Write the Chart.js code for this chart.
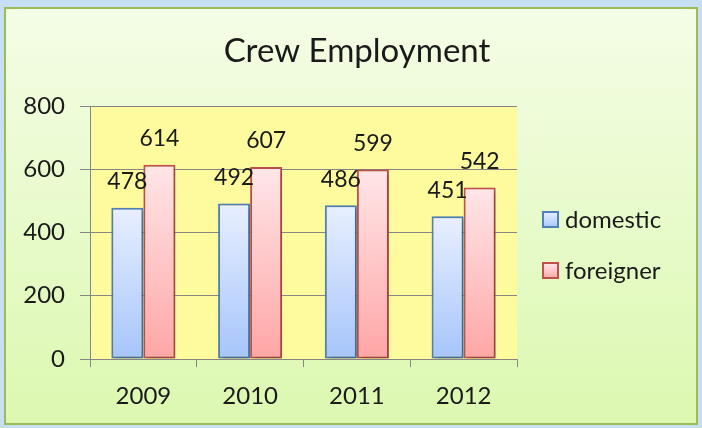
<!DOCTYPE html>
<html>
<head>
<meta charset="utf-8">
<script src="https://cdn.jsdelivr.net/npm/chart.js@4.4.1/dist/chart.umd.min.js"></script>
<style>
  html, body { margin: 0; padding: 0; background: #c6dff3; }
  #wrap { width: 702px; height: 428px; position: relative; }
</style>
</head>
<body>
<div id="wrap"><canvas id="c" width="702" height="428"></canvas></div>
<script>
const years = ['2009', '2010', '2011', '2012'];
const domestic = [478, 492, 486, 451];
const foreigner = [614, 607, 599, 542];
const yTicks = [0, 200, 400, 600, 800];
const chartTitle = 'Crew Employment';

const FONT = 'Lato, "Open Sans", sans-serif';
const TEXT = '#1a1a1a';

const palette = {
  domestic: { top: '#e8efff', bottom: '#a6c5fa', border: '#4f81bd' },
  foreigner: { top: '#ffe6e8', bottom: '#ffa6a6', border: '#c0504d' }
};

function barGradient(ctx, pal) {
  const chart = ctx.chart;
  if (!chart.chartArea || ctx.type !== 'data') return pal.bottom;
  const ys = chart.scales.y;
  const top = ys.getPixelForValue(ctx.parsed.y);
  const bottom = ys.getPixelForValue(0);
  const g = chart.ctx.createLinearGradient(0, top, 0, bottom);
  g.addColorStop(0, pal.top);
  g.addColorStop(1, pal.bottom);
  return g;
}

// Page frame, panel gradient, title and the yellow plot area
const backdrop = {
  id: 'backdrop',
  beforeDraw(chart) {
    const { ctx, chartArea: a } = chart;
    ctx.save();
    ctx.fillStyle = '#c6dff3';
    ctx.fillRect(0, 0, chart.width, chart.height);
    const g = ctx.createLinearGradient(0, 8, 0, 424);
    g.addColorStop(0, '#f4fde6');
    g.addColorStop(1, '#dcf8b0');
    ctx.fillStyle = g;
    ctx.fillRect(5, 8, 692, 416);
    ctx.strokeStyle = '#9bbb59';
    ctx.lineWidth = 2;
    ctx.strokeRect(5, 8, 692, 416);
    ctx.fillStyle = '#fefb9e';
    ctx.fillRect(a.left, a.top, a.right - a.left, a.bottom - a.top);
    ctx.font = '33px ' + FONT;
    ctx.fillStyle = TEXT;
    ctx.textAlign = 'center';
    ctx.textBaseline = 'alphabetic';
    ctx.fillText(chartTitle, 357, 62);
    ctx.restore();
  }
};

// Soft drop shadow under the bars
const barShadow = {
  id: 'barShadow',
  beforeDatasetsDraw(chart) {
    const ctx = chart.ctx;
    ctx.save();
    ctx.shadowColor = 'rgba(0,0,0,0.28)';
    ctx.shadowBlur = 5;
    ctx.shadowOffsetX = 2;
    ctx.shadowOffsetY = 2;
  },
  afterDatasetsDraw(chart) {
    chart.ctx.restore();
  }
};

// Value labels above each bar
const valueLabels = {
  id: 'valueLabels',
  afterDatasetsDraw(chart) {
    const ctx = chart.ctx;
    ctx.save();
    ctx.font = '23px ' + FONT;
    ctx.fillStyle = TEXT;
    ctx.textAlign = 'center';
    ctx.textBaseline = 'middle';
    chart.data.datasets.forEach((ds, i) => {
      chart.getDatasetMeta(i).data.forEach((bar, j) => {
        ctx.fillText(String(ds.data[j]), bar.x, bar.y - 26);
      });
    });
    ctx.restore();
  }
};

// Legend at the right of the plot
const sideLegend = {
  id: 'sideLegend',
  afterDraw(chart) {
    const ctx = chart.ctx;
    const pals = [palette.domestic, palette.foreigner];
    const rows = [220, 271];
    ctx.save();
    ctx.font = '24px ' + FONT;
    ctx.textBaseline = 'middle';
    chart.data.datasets.forEach((ds, i) => {
      const cy = rows[i];
      const pal = pals[i];
      const g = ctx.createLinearGradient(0, cy - 8, 0, cy + 8);
      g.addColorStop(0, pal.top);
      g.addColorStop(1, pal.bottom);
      ctx.fillStyle = g;
      ctx.fillRect(543, cy - 8, 15, 15);
      ctx.strokeStyle = pal.border;
      ctx.lineWidth = 2;
      ctx.strokeRect(543, cy - 8, 15, 15);
      ctx.fillStyle = TEXT;
      ctx.fillText(ds.label, 565, cy);
    });
    ctx.restore();
  }
};

new Chart(document.getElementById('c'), {
  type: 'bar',
  data: {
    labels: years,
    datasets: [
      {
        label: 'domestic',
        data: domestic,
        backgroundColor: (c) => barGradient(c, palette.domestic),
        borderColor: palette.domestic.border,
        borderWidth: 2,
        borderSkipped: false
      },
      {
        label: 'foreigner',
        data: foreigner,
        backgroundColor: (c) => barGradient(c, palette.foreigner),
        borderColor: palette.foreigner.border,
        borderWidth: 2,
        borderSkipped: false
      }
    ]
  },
  options: {
    responsive: false,
    animation: false,
    devicePixelRatio: 1,
    layout: { padding: { left: 0, right: 185, top: 106, bottom: 0 } },
    datasets: { bar: { categoryPercentage: 0.6, barPercentage: 1.0 } },
    plugins: {
      legend: { display: false },
      tooltip: { enabled: false },
      title: { display: false }
    },
    scales: {
      x: {
        offset: true,
        grid: { display: true, drawOnChartArea: false, drawTicks: true, tickLength: 8, color: '#868686', offset: true },
        border: { display: true, color: '#868686', width: 1 },
        ticks: { color: TEXT, font: { family: FONT, size: 24 }, padding: 15 },
        afterFit(s) { s.height = 69; }
      },
      y: {
        min: 0,
        max: 800,
        afterBuildTicks(s) { s.ticks = yTicks.map(v => ({ value: v })); },
        grid: { color: '#868686', drawTicks: true, tickLength: 10 },
        border: { display: true, color: '#868686', width: 1 },
        ticks: { color: TEXT, font: { family: FONT, size: 24 }, padding: 15 },
        afterFit(s) { s.width = 90; }
      }
    }
  },
  plugins: [backdrop, barShadow, valueLabels, sideLegend]
});
</script>
</body>
</html>
